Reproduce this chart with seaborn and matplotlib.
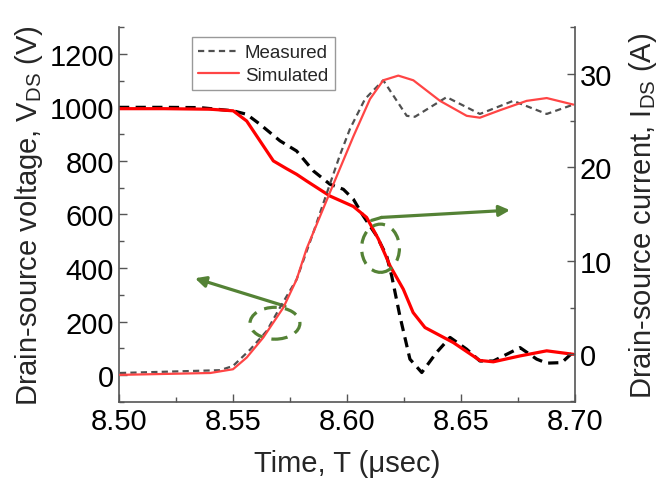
import numpy as np
import pandas as pd
import seaborn as sns
import matplotlib
matplotlib.use("Agg")
import matplotlib.pyplot as plt
from matplotlib.patches import Ellipse
from matplotlib.ticker import MultipleLocator, FormatStrFormatter

# ---- Drain-source voltage (V) ----
t_v_meas = [8.500, 8.520, 8.5355, 8.5501, 8.5560, 8.5618, 8.5706, 8.5779, 8.5852,
            8.5925, 8.5984, 8.6028, 8.6071, 8.6130, 8.6174, 8.6196, 8.6232, 8.6276,
            8.6328, 8.6393, 8.6452, 8.6525, 8.6583, 8.6642, 8.6759, 8.6832, 8.6876,
            8.6942, 8.6993]
v_meas = [1000, 1000, 999, 987, 974, 937, 875, 837, 763,
          713, 694, 657, 595, 520, 445, 371, 221, 60,
          10, 85, 141, 97, 53, 53, 103, 60, 45,
          47, 87]

t_v_sim = [8.500, 8.520, 8.540, 8.5501, 8.5560, 8.5677, 8.5735, 8.5779, 8.5823,
           8.5925, 8.6028, 8.6086, 8.6138, 8.6189, 8.6247, 8.6290, 8.6342, 8.6466,
           8.6583, 8.6642, 8.6759, 8.6876, 8.6993]
v_sim = [995, 995, 993, 987, 949, 800, 771, 750, 725,
         669, 630, 589, 508, 408, 321, 234, 178, 122,
         55, 50, 72, 91, 78]

# ---- Drain-source current (A) ----
t_i_meas = [8.5004, 8.5443, 8.5500, 8.5575, 8.5648, 8.5706, 8.5779, 8.5852, 8.5918,
            8.5969, 8.6013, 8.6079, 8.6159, 8.6262, 8.6298, 8.6437, 8.6583, 8.6729,
            8.6876, 8.6993]
i_meas = [-2.0, -1.7, -1.25, 0.5, 2.5, 5.0, 8.0, 13.0, 17.7,
          21.3, 24.1, 27.3, 29.3, 25.5, 25.4, 27.5, 25.7, 27.1,
          25.7, 26.7]

t_i_sim = [8.5004, 8.5400, 8.5500, 8.5560, 8.5633, 8.5721, 8.5779, 8.5823, 8.5925,
           8.6028, 8.6101, 8.6159, 8.6225, 8.6291, 8.6408, 8.6525, 8.6583, 8.6671,
           8.6788, 8.6876, 8.6993]
i_sim = [-2.2, -2.0, -1.6, -0.35, 1.8, 5.0, 8.0, 11.3, 17.3,
         23.3, 27.3, 29.3, 29.8, 29.3, 27.1, 25.5, 25.3, 26.1,
         27.1, 27.4, 26.7]

x_ticks = [8.50, 8.55, 8.60, 8.65, 8.70]
labels = ["Measured", "Simulated"]

sns.set_style("white")
plt.rcParams["font.family"] = ["Liberation Sans", "DejaVu Sans"]
plt.rcParams["mathtext.fontset"] = "custom"
plt.rcParams["mathtext.rm"] = "Liberation Sans"
plt.rcParams["mathtext.it"] = "Liberation Sans:italic"

FS = 21
GREEN = "#548235"
SPINE = "#555555"

fig, ax = plt.subplots(figsize=(6.59, 4.85), dpi=100)
fig.subplots_adjust(left=0.1806, right=0.8725, bottom=0.1691, top=0.9423)
ax2 = ax.twinx()

# voltage traces (left axis)
sns.lineplot(x=t_v_meas, y=v_meas, ax=ax, color="black", lw=2.3,
             estimator=None, sort=False, linestyle=(0, (3.2, 2.0)))
sns.lineplot(x=t_v_sim, y=v_sim, ax=ax, color="#ff0000", lw=2.3,
             estimator=None, sort=False)

# current traces (right axis)
sns.lineplot(x=t_i_meas, y=i_meas, ax=ax2, color="#505050", lw=1.6,
             estimator=None, sort=False, linestyle=(0, (2.8, 1.9)), label=labels[0])
sns.lineplot(x=t_i_sim, y=i_sim, ax=ax2, color="#ff4545", lw=1.6,
             estimator=None, sort=False, label=labels[1])

ax.set_xlim(8.50, 8.70)
ax.set_ylim(-100, 1300)
ax2.set_ylim(-5.1, 35)

ax.set_xticks(x_ticks)
ax.xaxis.set_minor_locator(MultipleLocator(0.025))
ax.xaxis.set_major_formatter(FormatStrFormatter("%.2f"))
ax.set_yticks([0, 200, 400, 600, 800, 1000, 1200])
ax.yaxis.set_minor_locator(MultipleLocator(100))
ax2.set_yticks([0, 10, 20, 30])
ax2.yaxis.set_minor_locator(MultipleLocator(5))

for a in (ax, ax2):
    a.spines["top"].set_visible(False)
    for s in a.spines.values():
        s.set_color(SPINE)
        s.set_linewidth(1.2)
ax.spines["right"].set_visible(False)
ax2.spines["left"].set_visible(False)
ax2.spines["bottom"].set_visible(False)

ax.tick_params(axis="both", which="both", direction="in", colors=SPINE,
               labelcolor="black", labelsize=FS, width=1.0)
ax.tick_params(which="major", length=6)
ax.tick_params(which="minor", length=3.5)
ax.tick_params(axis="y", left=True, right=False, which="both")
ax.tick_params(axis="x", bottom=True, top=False, which="both")
ax2.tick_params(axis="y", which="both", direction="in", colors=SPINE,
                labelcolor="black", labelsize=FS, width=1.0, right=True, left=False)
ax2.tick_params(which="major", length=6)
ax2.tick_params(which="minor", length=3.5)

ax.set_xlabel("Time, T (\u03bcsec)", fontsize=FS, labelpad=10)
ax.set_ylabel(r"Drain-source voltage, V$_{\rm DS}$ (V)", fontsize=FS, labelpad=3)
ax2.set_ylabel(r"Drain-source current, I$_{\rm DS}$ (A)", fontsize=FS, labelpad=11)

# annotation: ellipses marking the traces and arrows pointing to their axes
ax.add_patch(Ellipse((8.5684, 194), 0.0219, 119, fill=False, ec=GREEN, lw=2.3,
                     ls=(0, (4, 2.6)), zorder=5))
ax.add_patch(Ellipse((8.6147, 474), 0.0166, 180, fill=False, ec=GREEN, lw=2.3,
                     ls=(0, (4, 2.6)), zorder=5))
ax.annotate("", xy=(8.5333, 362), xytext=(8.5728, 258),
            arrowprops=dict(arrowstyle="-|>", color=GREEN, lw=2.3,
                            mutation_scale=16, shrinkA=0, shrinkB=0))
ax.annotate("", xy=(8.6152, 589), xytext=(8.6108, 578),
            arrowprops=dict(arrowstyle="-", color=GREEN, lw=2.3,
                            shrinkA=0, shrinkB=0))
ax.annotate("", xy=(8.6715, 616), xytext=(8.6150, 589),
            arrowprops=dict(arrowstyle="-|>", color=GREEN, lw=2.3,
                            mutation_scale=16, shrinkA=0, shrinkB=0))

leg = ax2.legend(loc="upper left", bbox_to_anchor=(0.159, 0.972), fontsize=13.5,
                 frameon=True, fancybox=False, edgecolor="#808080",
                 handlelength=2.2, handletextpad=0.3, borderpad=0.35,
                 labelspacing=0.3, borderaxespad=0)
leg.get_frame().set_linewidth(1.0)

fig.savefig("out.png", dpi=100)
